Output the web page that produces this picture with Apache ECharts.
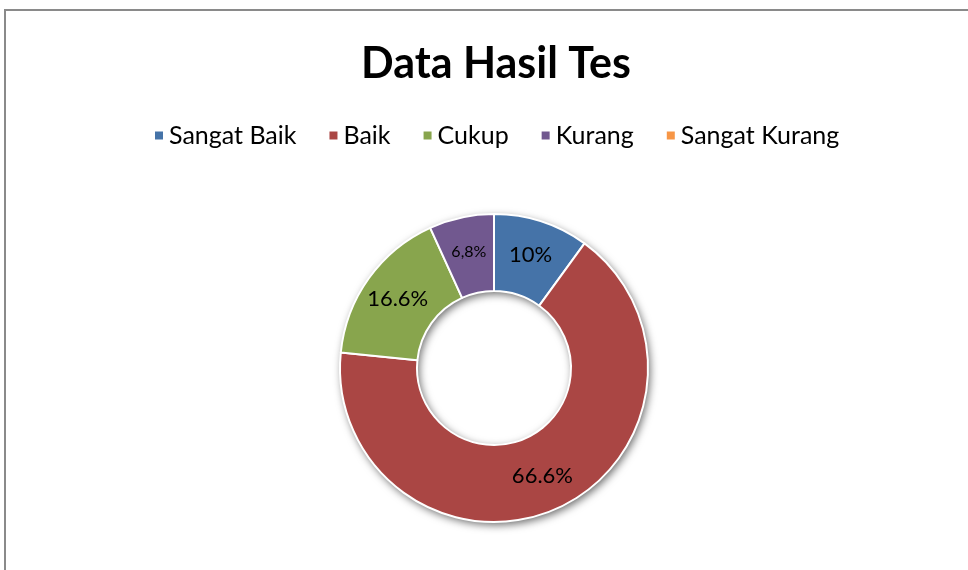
<!DOCTYPE html>
<html>
<head>
<meta charset="utf-8">
<script src="https://cdn.jsdelivr.net/npm/echarts@6/dist/echarts.min.js"></script>
<style>
  html, body { margin: 0; padding: 0; background: #fff; }
  #chart { width: 968px; height: 570px; }
</style>
</head>
<body>
<div id="chart"></div>
<script>
  const categories = ["Sangat Baik", "Baik", "Cukup", "Kurang", "Sangat Kurang"];
  const values = [10, 66.6, 16.6, 6.8, 0];
  const labelTexts = ["10%", "66.6%", "16.6%", "6,8%", ""];
  const colors = ["#4573A8", "#AA4644", "#88A54D", "#71588F", "#F79646"];

  const fontFamily = "Lato, 'Open Sans', sans-serif";
  const myChart = echarts.init(document.getElementById("chart"));

  const option = {
    animation: false,
    color: colors,
    title: {
      text: "Data Hasil Tes",
      left: 356,
      top: 38,
      textStyle: {
        color: "#000",
        fontSize: 43,
        fontWeight: "bold",
        fontFamily: fontFamily,
      },
    },
    legend: {
      top: 118,
      left: 148,
      icon: "rect",
      itemWidth: 10,
      itemHeight: 10,
      itemGap: 31,
      textStyle: {
        color: "#000",
        fontSize: 25,
        fontFamily: fontFamily,
      },
      data: categories,
    },
    graphic: [
      {
        type: "rect",
        shape: { x: 5, y: 10, width: 1000, height: 1000 },
        style: { fill: "none", stroke: "#8a8a8a", lineWidth: 2 },
        z: -10,
      },
    ],
    series: [
      {
        // shadow ring under the slices
        type: "pie",
        silent: true,
        center: [494, 368],
        radius: [77, 154],
        label: { show: false },
        itemStyle: {
          color: "#fff",
          shadowBlur: 8,
          shadowColor: "rgba(0,0,0,0.6)",
          shadowOffsetX: 2,
          shadowOffsetY: 3,
        },
        data: [{ value: 1, name: "" }],
        legendHoverLink: false,
        z: 1,
      },
      {
        type: "pie",
        center: [494, 368],
        radius: [77, 154],
        startAngle: 90,
        clockwise: true,
        avoidLabelOverlap: false,
        itemStyle: {
          borderColor: "#fff",
          borderWidth: 2,
        },
        label: {
          show: true,
          position: "inside",
          color: "#000",
          fontSize: 22,
          fontFamily: fontFamily,
          formatter: (p) => labelTexts[p.dataIndex],
        },
        labelLine: { show: false },
        data: categories.map((name, i) => ({
          name: name,
          value: values[i],
          label: i === 3 ? { fontSize: 16 } : undefined,
        })),
        z: 2,
      },
    ],
  };

  myChart.setOption(option);
</script>
</body>
</html>
